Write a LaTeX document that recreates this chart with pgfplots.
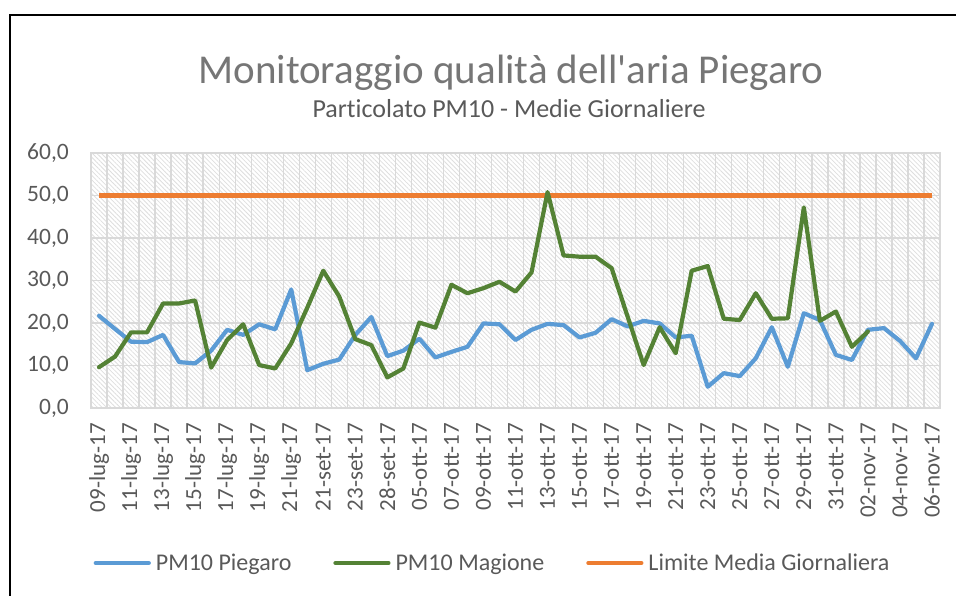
\documentclass[border=0pt]{standalone}
\usepackage{fontspec}
\setmainfont{Carlito}[Ligatures={NoCommon}]
\usepackage{pgfplots}
\pgfplotsset{compat=1.18}
\usetikzlibrary{patterns.meta}
\definecolor{cblue}{HTML}{5B9BD5}
\definecolor{cgreen}{HTML}{548235}
\definecolor{corange}{HTML}{ED7D31}
\definecolor{cgrid}{HTML}{D9D9D9}
\definecolor{ctext}{HTML}{595959}
\definecolor{ctitle}{HTML}{767676}

\pgfplotstableread{
x y
0 21.7
1 18.6
2 15.6
3 15.5
4 17.2
5 10.8
6 10.5
7 13.5
8 18.4
9 17.2
10 19.7
11 18.5
12 27.9
13 8.9
14 10.4
15 11.4
16 17.2
17 21.4
18 12.2
19 13.5
20 16.3
21 11.9
22 13.2
23 14.4
24 19.9
25 19.7
26 16.0
27 18.4
28 19.8
29 19.5
30 16.6
31 17.7
32 20.9
33 19.2
34 20.5
35 19.9
36 16.6
37 17.0
38 5.0
39 8.2
40 7.5
41 11.7
42 19.0
43 9.7
44 22.3
45 20.7
46 12.5
47 11.3
48 18.4
49 18.8
50 15.8
51 11.7
52 19.8
}\piegaro

\pgfplotstableread{
x y
0 9.6
1 12.1
2 17.8
3 17.8
4 24.6
5 24.6
6 25.3
7 9.5
8 16.0
9 19.7
10 10.1
11 9.3
12 15.2
13 23.6
14 32.3
15 26.2
16 16.2
17 14.8
18 7.2
19 9.3
20 20.1
21 18.9
22 29.0
23 27.0
24 28.2
25 29.7
26 27.4
27 31.9
28 50.8
29 35.9
30 35.6
31 35.6
32 32.9
33 21.5
34 10.1
35 19.0
36 12.9
37 32.3
38 33.4
39 21.0
40 20.7
41 27.0
42 21.0
43 21.1
44 47.2
45 20.5
46 22.7
47 14.4
48 18.0
}\magione

\begin{document}
\begin{tikzpicture}
\useasboundingbox (0pt,0pt) rectangle (956pt,595pt);
\draw[line width=2pt] (10pt,-10pt) -- (10pt,580pt) -- (970pt,580pt);
\node[anchor=base, text=ctitle, font=\fontsize{41pt}{48pt}\selectfont, inner sep=0pt] at (511pt,511pt) {Monitoraggio qualità dell\textquotesingle aria Piegaro};
\node[anchor=base, text=ctext, font=\fontsize{26pt}{30pt}\selectfont, inner sep=0pt] at (509pt,477pt) {Particolato PM10 - Medie Giornaliere};
\begin{axis}[
  at={(91pt,187pt)}, anchor=south west,
  width=849pt, height=255pt, scale only axis,
  xmin=-0.5, xmax=52.5, ymin=0, ymax=60,
  axis background/.style={pattern={Lines[angle=-45,distance=3.2pt,line width=0.8pt]}, pattern color=black!13},
  axis line style={cgrid, line width=1.3pt},
  ytick={0,10,...,60},
  yticklabels={{0,0},{10,0},{20,0},{30,0},{40,0},{50,0},{60,0}},
  xtick={0,2,...,52},
  xticklabels={09-lug-17,11-lug-17,13-lug-17,15-lug-17,17-lug-17,19-lug-17,21-lug-17,21-set-17,23-set-17,28-set-17,05-ott-17,07-ott-17,09-ott-17,11-ott-17,13-ott-17,15-ott-17,17-ott-17,19-ott-17,21-ott-17,23-ott-17,25-ott-17,27-ott-17,29-ott-17,31-ott-17,02-nov-17,04-nov-17,06-nov-17},
  minor xtick={-0.5,0.5,...,52.5},
  xminorgrids, ymajorgrids, xmajorgrids=false,
  major tick length=0pt, minor tick length=0pt,
  grid style={cgrid, line width=1.3pt},
  minor grid style={cgrid, line width=1.3pt},
  yticklabel style={font=\fontsize{23.5pt}{28pt}\selectfont, text=ctext, inner sep=0pt, anchor=east},
  yticklabel shift=22pt,
  xticklabel style={font=\fontsize{23pt}{28pt}\selectfont, text=ctext, inner sep=0pt, rotate=90, anchor=east},
  xticklabel shift=15pt,
  legend style={at={(0.473,-0.608)}, anchor=center, draw=none, fill=none,
    font=\fontsize{24pt}{28pt}\selectfont, text=ctext,
    /tikz/every even column/.append style={column sep=40pt},
    /tikz/every odd column/.append style={column sep=3pt},
    cells={anchor=west}, inner sep=0pt},
  legend columns=3,
  legend image code/.code={\draw[#1, line width=4.2pt, line cap=round] (0pt,0pt) -- (53pt,0pt);},
]
\addplot[cblue, line width=4.2pt, line join=round, line cap=round] table[x=x,y=y] {\piegaro};
\addlegendentry{PM10 Piegaro}
\addplot[corange, line width=4.2pt, line cap=butt, forget plot] coordinates {(0,50) (52,50)};
\addplot[cgreen, line width=4.2pt, line join=round, line cap=round] table[x=x,y=y] {\magione};
\addlegendentry{PM10 Magione}
\addlegendimage{corange}
\addlegendentry{Limite Media Giornaliera}
\end{axis}
\end{tikzpicture}
\end{document}
